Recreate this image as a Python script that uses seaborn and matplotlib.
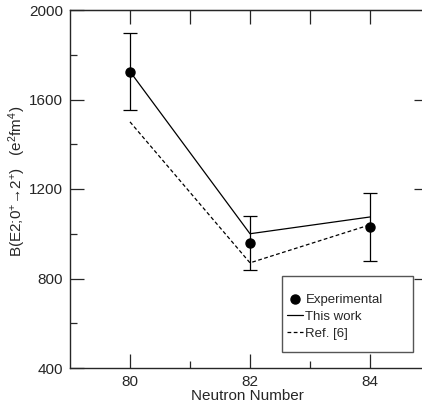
"""
B(E2) transition strengths vs neutron number
"""

import pandas as pd
import seaborn as sns
import matplotlib.pyplot as plt
from matplotlib.lines import Line2D
from matplotlib.patches import Rectangle

# --- Data ---
neutrons = [80, 82, 84]
exp_value = [1725, 960, 1030]
exp_err = [170, 120, 150]
this_work = [1725, 1000, 1075]
ref6 = [1500, 870, 1040]

df = pd.DataFrame({"N": neutrons, "exp": exp_value, "err": exp_err,
                   "this": this_work, "ref": ref6})

sns.set_style("ticks")
plt.rcParams["font.family"] = ["Liberation Sans", "DejaVu Sans"]
plt.rcParams["mathtext.fontset"] = "custom"
plt.rcParams["mathtext.rm"] = "Liberation Sans"
plt.rcParams["mathtext.it"] = "Liberation Sans"
plt.rcParams["font.size"] = 11

fig = plt.figure(figsize=(4.22, 4.08), dpi=100)
ax = fig.add_axes([70 / 422, 40 / 408, 354 / 422, 358 / 408])

# --- Lines ---
sns.lineplot(data=df, x="N", y="this", color="black", lw=0.9, ax=ax)
sns.lineplot(data=df, x="N", y="ref", color="black", lw=0.9,
             linestyle=(0, (3, 2)), ax=ax)

# --- Experimental points with error bars ---
ax.errorbar(df["N"], df["exp"], yerr=df["err"], fmt="o", color="black",
            ms=6.5, capsize=5, elinewidth=0.9, capthick=0.9, zorder=3)

ax.set_xlim(79, 84.9)
ax.set_ylim(400, 2000)
ax.set_xticks([80, 82, 84])
ax.set_xticks([81, 83], minor=True)
ax.set_yticks([400, 800, 1200, 1600, 2000])
ax.set_yticks([600, 1000, 1400, 1800], minor=True)
ax.tick_params(which="major", direction="in", length=10, width=0.9,
               labelsize=11, pad=5)
ax.tick_params(which="minor", direction="in", length=5, width=0.9)

# ticks on top and right, like the original frame
top = ax.secondary_xaxis("top")
top.set_xticks([80, 81, 82, 83, 84])
top.tick_params(direction="in", length=10, width=0.9, labeltop=False)
right = ax.secondary_yaxis("right")
right.set_yticks([800, 1200, 1600])
right.tick_params(direction="in", length=7, width=0.9, labelright=False)

for s in ax.spines.values():
    s.set_linewidth(1.0)

ax.set_xlabel("Neutron Number", fontsize=11, labelpad=0)
ax.set_ylabel(r"B(E2;0$^{+}$→2$^{+}$)   (e$^{2}$fm$^{4}$)", fontsize=11)
ax.yaxis.set_label_coords(-0.118, 0.522)

# --- Legend (entries without frame, box drawn separately) ---
handles = [
    Line2D([], [], marker="o", ls="none", color="black", ms=6.5),
    Line2D([], [], color="black", lw=0.9),
    Line2D([], [], color="black", lw=0.9, ls=(0, (3, 2))),
]
labels = ["Experimental", "This work", "Ref. [6]"]
ax.legend(handles, labels, loc="upper left", bbox_to_anchor=(0.613, 0.207),
          borderaxespad=0, borderpad=0, frameon=False, handlelength=1.2,
          handletextpad=0.2, labelspacing=0.35, fontsize=9.5)
ax.add_patch(Rectangle((0.599, 0.045), 0.371, 0.212, transform=ax.transAxes,
                       fill=True, facecolor="white", edgecolor="#555555",
                       lw=1.0, zorder=4))
ax.get_legend().set_zorder(5)

plt.savefig("out.png", dpi=100)
